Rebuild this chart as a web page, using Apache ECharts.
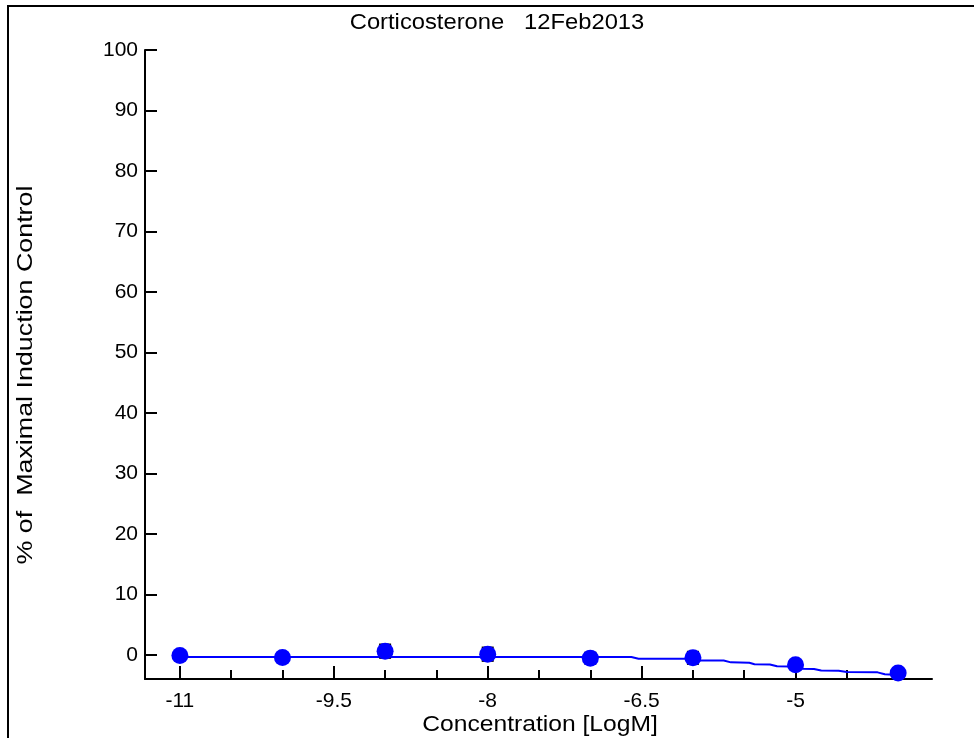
<!DOCTYPE html>
<html>
<head>
<meta charset="utf-8">
<script src="https://cdn.jsdelivr.net/npm/echarts@6/dist/echarts.min.js"></script>
<style>
  html, body { margin: 0; padding: 0; background: #fff; }
  #chart { width: 974px; height: 738px; }
</style>
</head>
<body>
<div id="chart"></div>
<script>
// Dose-response data: log molar concentration vs. % of maximal induction
const concentrations = [-11, -10, -9, -8, -7, -6, -5, -4];
const meanResponse   = [-0.1, -0.45, 0.6, 0.1, -0.55, -0.5, -1.65, -3.0];
const sdResponse     = [0.6, 0.4, 1.1, 1.1, 0.9, 1.0, 0.5, 0.4];

// Fitted curve (log concentration, response)
const fitX = [-11.0, -6.6, -6.53, -6.02, -5.95, -5.7, -5.63, -5.45, -5.4, -5.25,
              -5.18, -5.05, -4.95, -4.82, -4.75, -4.58, -4.5, -4.2, -4.13, -4.0];
const fitY = [-0.35, -0.35, -0.65, -0.65, -0.95, -0.95, -1.25, -1.3, -1.55, -1.6,
              -1.9, -1.95, -2.3, -2.35, -2.6, -2.65, -2.85, -2.9, -3.2, -3.35];

// Axis ticks
const xMajorTicks = [-11, -9.5, -8, -6.5, -5];
const xMinorTicks = [-10.5, -10, -9, -8.5, -7.5, -7, -6, -5.5, -4.5, -4];
const yTicks = [0, 10, 20, 30, 40, 50, 60, 70, 80, 90, 100];

const titleText = 'Corticosterone   12Feb2013';
const xName = 'Concentration [LogM]';
const yName = '% of  Maximal Induction Control';

const FONT = '"Liberation Sans", Arial, sans-serif';
const BLUE = '#0000ff';

const chart = echarts.init(document.getElementById('chart'), null, { renderer: 'canvas' });

const points = concentrations.map((x, i) => [x, meanResponse[i]]);
const bars = concentrations.map((x, i) => [x, meanResponse[i] - sdResponse[i], meanResponse[i] + sdResponse[i]]);
const fit = fitX.map((x, i) => [x, fitY[i]]);

const X_MIN = -11.34, X_MAX = -3.67;

function textEl(text, x, y, opts) {
  return Object.assign({
    type: 'text', x, y, silent: true,
    style: {
      text, fontFamily: FONT, fontSize: 22, fill: '#000',
      textAlign: 'center', textVerticalAlign: 'top'
    }
  }, opts || {});
}

chart.setOption({
  animation: false,
  backgroundColor: '#fff',
  grid: { left: 145, top: 50, right: 42, bottom: 59, containLabel: false, outerBoundsMode: 'none' },
  xAxis: [
    {
      type: 'value',
      min: X_MIN, max: X_MAX,
      position: 'bottom',
      offset: 0,
      axisLine: { onZero: false, lineStyle: { color: '#000', width: 2 } },
      axisTick: { inside: true, length: 13, customValues: xMajorTicks, lineStyle: { color: '#000', width: 2 } },
      axisLabel: {
        customValues: xMajorTicks, margin: 12,
        fontFamily: FONT, fontSize: 21, color: '#000',
        formatter: v => String(v)
      },
      splitLine: { show: false }
    },
    {
      type: 'value',
      min: X_MIN, max: X_MAX,
      position: 'bottom',
      offset: 0,
      axisLine: { show: false, onZero: false },
      axisTick: { inside: true, length: 9, customValues: xMinorTicks, lineStyle: { color: '#000', width: 2 } },
      axisLabel: { show: false },
      splitLine: { show: false }
    }
  ],
  yAxis: {
    type: 'value',
    min: -4, max: 100,
    axisLine: { onZero: false, lineStyle: { color: '#000', width: 2 } },
    axisTick: { inside: true, length: 12, customValues: yTicks, lineStyle: { color: '#000', width: 2 } },
    axisLabel: {
      customValues: yTicks, margin: 7,
      fontFamily: FONT, fontSize: 21, color: '#000'
    },
    splitLine: { show: false }
  },
  graphic: [
    {
      type: 'rect',
      shape: { x: 8, y: 6, width: 1100, height: 900 },
      style: { fill: null, stroke: '#000', lineWidth: 2 },
      silent: true, z: 100
    },
    textEl(titleText, 497, 12, { scaleX: 1.08 }),
    textEl(xName, 540, 714, { scaleX: 1.12 }),
    textEl(yName, 15, 375, { rotation: Math.PI / 2, scaleX: 1.22 })
  ],
  series: [
    {
      type: 'line',
      data: fit,
      showSymbol: false,
      symbol: 'none',
      lineStyle: { color: BLUE, width: 2 },
      z: 2
    },
    {
      type: 'custom',
      data: bars,
      renderItem: (params, api) => {
        const x = api.value(0);
        const lo = api.coord([x, api.value(1)]);
        const hi = api.coord([x, api.value(2)]);
        const cap = 6;
        const style = { stroke: '#000', lineWidth: 2, fill: null };
        return {
          type: 'group',
          children: [
            { type: 'line', shape: { x1: lo[0], y1: lo[1], x2: hi[0], y2: hi[1] }, style },
            { type: 'line', shape: { x1: lo[0] - cap, y1: lo[1], x2: lo[0] + cap, y2: lo[1] }, style },
            { type: 'line', shape: { x1: hi[0] - cap, y1: hi[1], x2: hi[0] + cap, y2: hi[1] }, style }
          ]
        };
      },
      z: 3
    },
    {
      type: 'scatter',
      data: points,
      symbol: 'circle',
      symbolSize: 17,
      itemStyle: { color: BLUE, opacity: 1 },
      z: 4
    }
  ]
});
</script>
</body>
</html>
